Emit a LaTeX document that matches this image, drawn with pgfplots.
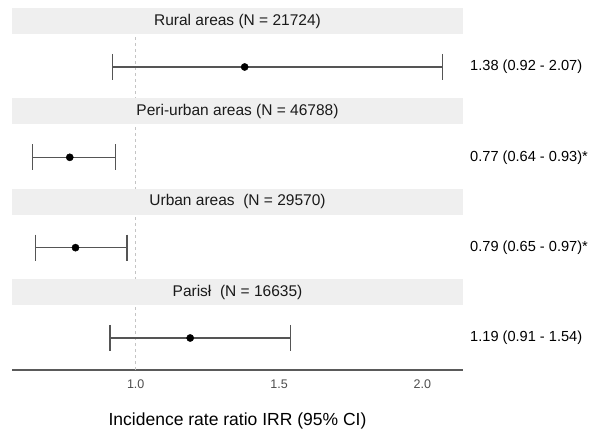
\documentclass[border=0pt]{standalone}
\usepackage{fontspec}
\setmainfont{Liberation Sans}
\usepackage{pgfplots}
\pgfplotsset{compat=1.18}
\definecolor{stripgray}{HTML}{EFEFEF}
\definecolor{dashgray}{HTML}{C4C4C4}
\definecolor{barcol}{HTML}{555555}
\definecolor{tickcol}{HTML}{4D4D4D}
\definecolor{axcol}{HTML}{5A5A5A}
\definecolor{striptext}{HTML}{1A1A1A}
\begin{document}
\begin{tikzpicture}
\path[use as bounding box] (0,0) rectangle (593pt,433pt);
\begin{axis}[
  at={(12pt,63pt)}, anchor=south west,
  scale only axis, width=451pt, height=362pt,
  xmin=0.5685, xmax=2.1415, ymin=0.6457, ymax=4.653,
  axis x line*=bottom, axis y line=none,
  x axis line style={axcol, line width=1.3pt},
  major tick length=0pt,
  xtick={1,1.5,2}, xticklabels={1.0,1.5,2.0},
  /pgf/number format/assume math mode=true,
  xticklabel style={font=\fontsize{12.5}{14}\selectfont, text=tickcol, yshift=-6pt},
  xlabel={Incidence rate ratio IRR (95\% CI)},
  xlabel style={at={(axis description cs:0.5,0)}, anchor=center, yshift=-51pt, font=\fontsize{17.5}{20}\selectfont},
  clip=false,
]
\draw[dashgray, dash pattern=on 3pt off 3pt, line width=0.8pt] (axis cs:1,0.6457) -- (axis cs:1,4.653);
\fill[stripgray] (axis cs:0.5685,4.365) rectangle (axis cs:2.1415,4.653);
\fill[stripgray] (axis cs:0.5685,3.365) rectangle (axis cs:2.1415,3.653);
\fill[stripgray] (axis cs:0.5685,2.365) rectangle (axis cs:2.1415,2.653);
\fill[stripgray] (axis cs:0.5685,1.365) rectangle (axis cs:2.1415,1.653);
\begin{scope}[every node/.style={font=\fontsize{15.5}{18}\selectfont, text=striptext, anchor=center}]
\node at (axis cs:1.355,4.509) {Rural areas (N = 21724)};
\node at (axis cs:1.355,3.509) {Peri-urban areas (N = 46788)};
\node at (axis cs:1.355,2.509) {Urban areas\ \ (N = 29570)};
\node at (axis cs:1.355,1.509) {Parisł\ \ (N = 16635)};
\end{scope}
% confidence intervals (lower, upper) with caps
\pgfplotsset{ci/.style={barcol, line width=1.3pt, mark=|, mark size=13pt, mark options={barcol, line width=1.3pt}}}
\addplot[ci] coordinates {(0.92,4) (2.07,4)};
\addplot[ci] coordinates {(0.64,3) (0.93,3)};
\addplot[ci] coordinates {(0.65,2) (0.97,2)};
\addplot[ci] coordinates {(0.91,1) (1.54,1)};
% point estimates
\addplot[only marks, mark=*, mark size=3.6pt, mark options={black, fill=black}]
coordinates {(1.38,4) (0.77,3) (0.79,2) (1.19,1)};
\begin{scope}[every node/.style={font=\fontsize{14.6}{17}\selectfont, anchor=west, inner sep=0pt, xshift=7pt}]
\node at (axis cs:2.1415,4) {1.38 (0.92 - 2.07)};
\node at (axis cs:2.1415,3) {0.77 (0.64 - 0.93)*};
\node at (axis cs:2.1415,2) {0.79 (0.65 - 0.97)*};
\node at (axis cs:2.1415,1) {1.19 (0.91 - 1.54)};
\end{scope}
\end{axis}
\end{tikzpicture}
\end{document}
